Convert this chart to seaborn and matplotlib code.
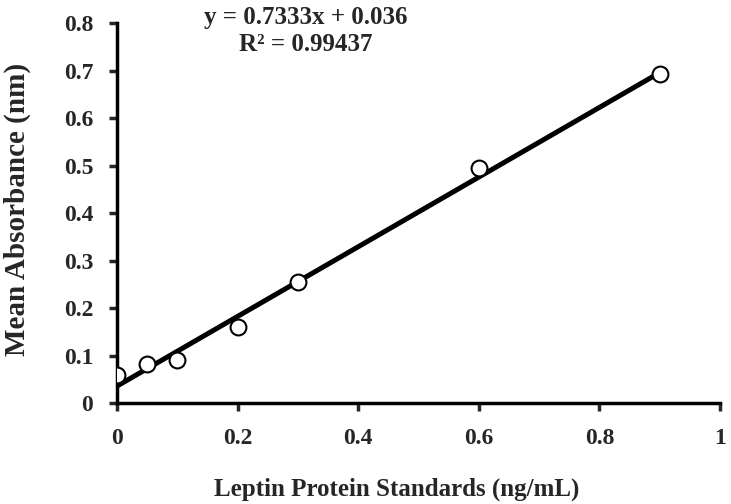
import numpy as np
import matplotlib.pyplot as plt
import seaborn as sns

# Leptin standards and mean absorbance
concentration = [0, 0.05, 0.1, 0.2, 0.3, 0.6, 0.9]
absorbance = [0.059, 0.082, 0.09, 0.161, 0.255, 0.495, 0.693]
slope = 0.7333
intercept = 0.036
r_squared = 0.99437

sns.set_style("white")
plt.rcParams['font.family'] = ['Liberation Serif', 'DejaVu Serif']
plt.rcParams['font.weight'] = 'bold'

fig = plt.figure(figsize=(7.31, 5.04), dpi=100)
ax = fig.add_axes([0.160, 0.200, 0.825, 0.754])

fit_x = np.array([min(concentration), max(concentration)])
fit_y = slope * fit_x + intercept
sns.lineplot(x=fit_x, y=fit_y, color="black", linewidth=3.6, ax=ax, zorder=2)
sns.scatterplot(x=concentration, y=absorbance, marker="o", s=130,
                facecolor="white", edgecolor="black", linewidth=1.5, ax=ax, zorder=3)

ax.set_xlim(0, 1)
ax.set_ylim(0, 0.8)
ax.set_xticks([0, 0.2, 0.4, 0.6, 0.8, 1])
ax.set_xticklabels(["0", "0.2", "0.4", "0.6", "0.8", "1"])
ax.set_yticks(np.arange(0, 0.81, 0.1))
ax.set_yticklabels(["0", "0.1", "0.2", "0.3", "0.4", "0.5", "0.6", "0.7", "0.8"])
ax.tick_params(axis="both", direction="out", length=6, width=2.5, labelsize=17,
               bottom=True, left=True)
ax.tick_params(axis="x", pad=12)
ax.tick_params(axis="y", pad=11)
for lbl in ax.get_xticklabels() + ax.get_yticklabels():
    lbl.set_fontweight("bold")
sns.despine(ax=ax)
for side in ["left", "bottom"]:
    ax.spines[side].set_linewidth(2.5)
    ax.spines[side].set_color("black")

ax.set_xlabel("Leptin Protein Standards (ng/mL)", fontsize=18, fontweight="bold")
ax.set_ylabel("Mean Absorbance (nm)", fontsize=21, fontweight="bold")
ax.xaxis.set_label_coords(0.464, -0.196)
ax.yaxis.set_label_coords(-0.143, 0.51)

ax.text(0.313, 0.812, f"y = {slope}x + {intercept}", fontsize=18, fontweight="bold",
        ha="center", va="center", clip_on=False)
ax.text(0.313, 0.756, f"R² = {r_squared}", fontsize=18, fontweight="bold",
        ha="center", va="center")

fig.savefig("out.png", dpi=100)
